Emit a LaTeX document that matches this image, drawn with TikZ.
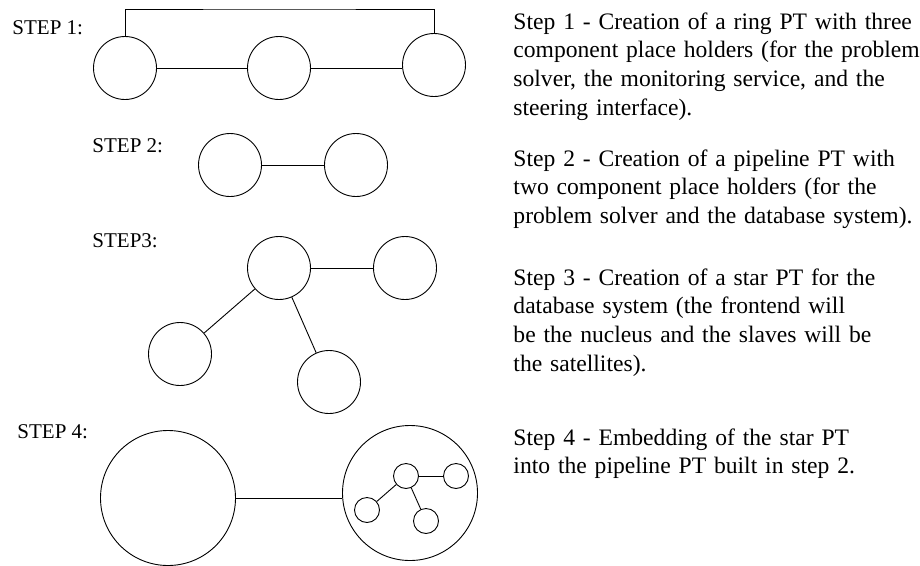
\documentclass[tikz,border=0pt]{standalone}
\usepackage{fontspec}
\setmainfont{Liberation Serif}
\usepackage{tikz}
\usetikzlibrary{calc}

\begin{document}
\begin{tikzpicture}[x=1pt,y=-1pt,draw=black!100,line width=0.9pt]
 	\useasboundingbox (0,0) rectangle (920,565);
 	\def \textx{513}
 	\tikzstyle{pt-node}=[circle,draw=black!100,inner sep=0pt,minimum size=63pt]
 	\tikzstyle{big-node}=[circle,draw=black!100,inner sep=0pt,minimum size=135pt]
 	\tikzstyle{sub-node}=[circle,draw=black!100,inner sep=0pt,minimum size=25pt]
 	\tikzstyle{step-label}=[anchor=base west,inner sep=0pt,font=\fontsize{21}{25}\selectfont]
 	\tikzstyle{annot}=[anchor=base west,inner sep=0pt,text width=440pt,align=left,font=\fontsize{23.6}{28.7}\selectfont]
 	% labels
 	\node[step-label] (step1-label) at (12,34)	{STEP 1:};
 	\node[step-label] (step2-label) at (92,152)	{STEP 2:};
 	\node[step-label] (step3-label) at (92,247)	{STEP3:};
 	\node[step-label] (step4-label) at (17,438)	{STEP 4:};

 	% step 1: ring
 	\node[pt-node] 	(ring0)	at (125,68)	{};
 	\node[pt-node] 	(ring1)	at (279,68)	{};
 	\node[pt-node] 	(ring2)	at (434,65)	{};
 	\coordinate (ring-top) at (279,9);

 	% step 2: pipeline
 	\node[pt-node] 	(pipe0)	at (230,165)	{};
 	\node[pt-node] 	(pipe1)	at (356,165)	{};

 	% step 3: star
 	\node[pt-node] 	(star0)	at (279,268)	{};
 	\node[pt-node] 	(star1)	at (405,268)	{};
 	\node[pt-node] 	(star2)	at (180,354)	{};
 	\node[pt-node] 	(star3)	at (329,382)	{};

 	% step 4: embedding
 	\node[big-node] (emb0)	at (168,498)	{};
 	\node[big-node] (emb1)	at (410,493)	{};
 	\node[sub-node] (sub0)	at (406,476)	{};
 	\node[sub-node] (sub1)	at (456,476)	{};
 	\node[sub-node] (sub2)	at (367,510)	{};
 	\node[sub-node] (sub3)	at (426,521)	{};

 	\path (ring0)	edge	(ring1)
 		(ring1.east)	edge	(ring2.west |- ring1.east)
 		(pipe0)	edge	(pipe1)
 		(star0)	edge	(star1)
 		(star0)	edge	(star2)
 		(star0)	edge	(star3)
 		(emb0.east)	edge	(emb1.west |- emb0.east)
 		(sub0)	edge	(sub1)
 		(sub0)	edge	(sub2)
 		(sub0)	edge	(sub3);
 	\draw (ring0.north) |- (ring-top) -| (ring2.north);

 	% descriptions
 	\node[annot] (step1-text) at (\textx,29) {Step 1 - Creation of a ring PT with three\\component place holders (for the problem\\solver, the monitoring service, and the\\steering interface).};
 	\node[annot] (step2-text) at (\textx,166) {Step 2 - Creation of a pipeline PT with\\two component place holders (for the\\problem solver and the database system).};
 	\node[annot] (step3-text) at (\textx,285) {Step 3 - Creation of a star PT for the\\database system (the frontend will\\be the nucleus and the slaves will be\\the satellites).};
 	\node[annot] (step4-text) at (\textx,445) {Step 4 - Embedding of the star PT\\into the pipeline PT built in step 2.};
\end{tikzpicture}
\end{document}
